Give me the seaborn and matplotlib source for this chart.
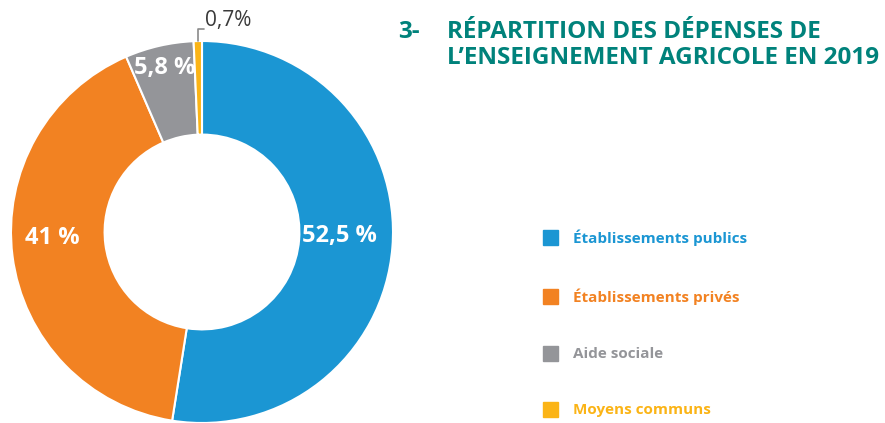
import matplotlib
matplotlib.use("Agg")
import matplotlib.pyplot as plt
import seaborn as sns
import numpy as np

categories = ["Établissements publics", "Établissements privés", "Aide sociale", "Moyens communs"]
values = [52.5, 41.0, 5.8, 0.7]
pct_labels = ["52,5 %", "41 %", "5,8 %", "0,7%"]
colors = ["#1b96d3", "#f28222", "#949599", "#fbb416"]

sns.set_theme(style="white")
plt.rcParams["font.family"] = ["Open Sans", "DejaVu Sans"]

fig = plt.figure(figsize=(8.85, 4.23), dpi=100)

# donut
ax = fig.add_axes([11 / 885, 0.0, 382 / 885, 382 / 423])
wedges, _ = ax.pie(values, colors=colors, startangle=90, counterclock=False,
                   wedgeprops=dict(width=0.49, edgecolor="white", linewidth=1.5))
ax.set_xlim(-1, 1)
ax.set_ylim(-1, 1)
ax.set_aspect("equal")
ax.axis("off")

# labels inside the ring
radii = [0.72, 0.79, 0.88]
dys = [0.035, 0.07, 0.0]
for w, lab, r, dy in zip(wedges[:3], pct_labels[:3], radii, dys):
    ang = np.deg2rad((w.theta1 + w.theta2) / 2)
    ax.text(r * np.cos(ang), r * np.sin(ang) + dy, lab, color="white", fontsize=17,
            fontweight="bold", ha="center", va="center")

# small slice with leader line
w = wedges[3]
ang = np.deg2rad((w.theta1 + w.theta2) / 2)
x0, y0 = np.cos(ang), np.sin(ang)
ax.plot([x0, x0, x0 + 0.03], [y0, y0 + 0.065, y0 + 0.065], color="#8a8a8a", lw=1.2,
        clip_on=False)
ax.text(x0 + 0.04, y0 + 0.055, pct_labels[3], color="#3a3a3a", fontsize=15,
        ha="left", va="bottom", clip_on=False)

# title
teal = "#00827b"
fig.text(398 / 885, 1 - 38 / 423, "3-", color=teal, fontsize=17.5, fontweight="bold")
fig.text(447 / 885, 1 - 38 / 423, "RÉPARTITION DES DÉPENSES DE", color=teal,
         fontsize=17.5, fontweight="bold")
fig.text(447 / 885, 1 - 64 / 423, "L’ENSEIGNEMENT AGRICOLE EN 2019", color=teal,
         fontsize=17.5, fontweight="bold")

# legend
ys = [238, 297, 354, 410]
for cat, col, y in zip(categories, colors, ys):
    fig.patches.append(plt.Rectangle((543 / 885, 1 - (y + 7) / 423), 15 / 885, 15 / 423,
                                     transform=fig.transFigure, color=col))
    fig.text(573 / 885, 1 - y / 423, cat, color=col, fontsize=11, fontweight="bold",
             va="center")

fig.savefig("out.png", dpi=100)
